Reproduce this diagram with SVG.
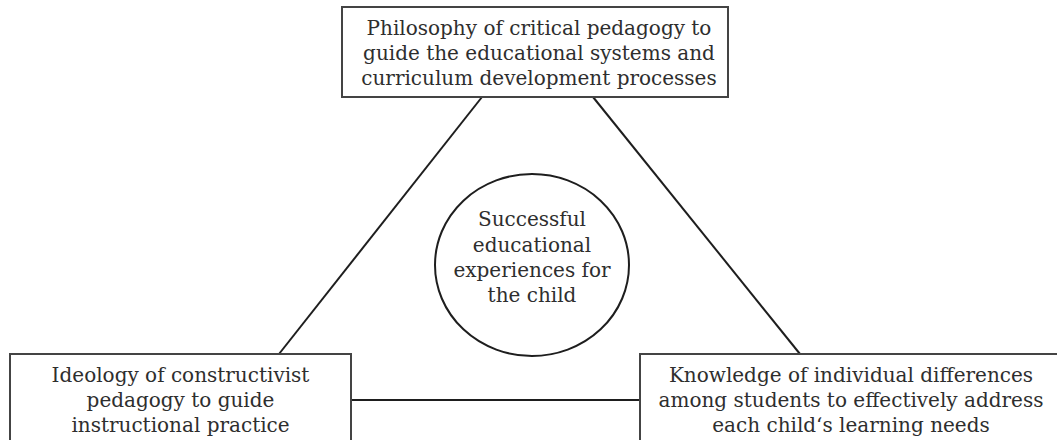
<svg xmlns="http://www.w3.org/2000/svg" width="1057" height="440" viewBox="0 0 1057 440">
  <style>
    .box { fill: #ffffff; stroke: #444444; stroke-width: 2; }
    .ring { fill: #ffffff; stroke: #1e1e1e; stroke-width: 2; }
    .link { stroke: #1e1e1e; stroke-width: 2; fill: none; }
    .label { font-family: "DejaVu Serif", "Liberation Serif", serif; font-size: 20px; fill: #2e2e2e; text-anchor: middle; }
  </style>
  <rect width="1057" height="440" fill="#ffffff"/>

  <!-- connectors -->
  <g id="connectors">
    <line class="link" x1="482" y1="97" x2="279" y2="354"/>
    <line class="link" x1="593" y1="97" x2="800" y2="354"/>
    <line class="link" x1="351" y1="400" x2="640" y2="400"/>
  </g>

  <!-- top: philosophy -->
  <g id="philosophy">
    <rect class="box" x="342" y="7" width="386" height="90"/>
    <text class="label" x="539" y="35">Philosophy of critical pedagogy to</text>
    <text class="label" x="539" y="60">guide the educational systems and</text>
    <text class="label" x="539" y="85">curriculum development processes</text>
  </g>

  <!-- centre: outcome -->
  <g id="outcome">
    <ellipse class="ring" cx="532" cy="265" rx="97" ry="91"/>
    <text class="label" x="532" y="226">Successful</text>
    <text class="label" x="532" y="252">educational</text>
    <text class="label" x="532" y="277">experiences for</text>
    <text class="label" x="532" y="302">the child</text>
  </g>

  <!-- bottom left: ideology -->
  <g id="ideology">
    <rect class="box" x="10" y="354" width="341" height="100"/>
    <text class="label" x="180.5" y="382">Ideology of constructivist</text>
    <text class="label" x="180.5" y="407">pedagogy to guide</text>
    <text class="label" x="180.5" y="432">instructional practice</text>
  </g>

  <!-- bottom right: knowledge -->
  <g id="knowledge">
    <rect class="box" x="640" y="354" width="430" height="100"/>
    <text class="label" x="851" y="382">Knowledge of individual differences</text>
    <text class="label" x="851" y="407">among students to effectively address</text>
    <text class="label" x="851" y="432">each child‘s learning needs</text>
  </g>
</svg>
